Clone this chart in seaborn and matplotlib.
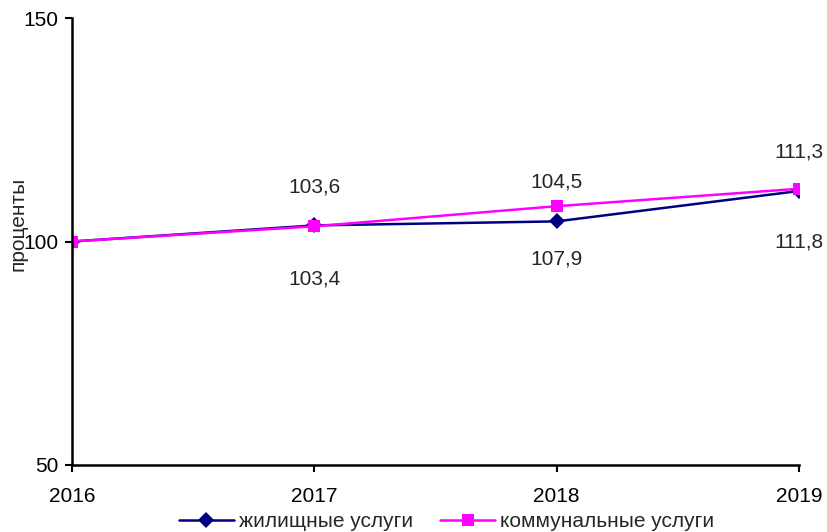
import matplotlib
matplotlib.use('Agg')
import matplotlib.pyplot as plt
import seaborn as sns
import pandas as pd

years = [2016, 2017, 2018, 2019]
housing = [100, 103.6, 104.5, 111.3]
utilities = [100, 103.4, 107.9, 111.8]
series_names = ['жилищные услуги', 'коммунальные услуги']
y_ticks = [50, 100, 150]

df = pd.DataFrame({
    'year': years * 2,
    'value': housing + utilities,
    'series': [series_names[0]] * 4 + [series_names[1]] * 4,
})

sns.set_style('white')
plt.rcParams['font.family'] = ['Liberation Sans', 'DejaVu Sans']
fs = 15

fig = plt.figure(figsize=(8.27, 5.32), dpi=100)
ax = fig.add_axes([72 / 827, 1 - 465 / 532, (799 - 72) / 827, (465 - 18) / 532])

colors = {series_names[0]: '#000080', series_names[1]: '#ff00ff'}
markers = {series_names[0]: 'D', series_names[1]: 's'}
sns.lineplot(data=df, x='year', y='value', hue='series', style='series',
             palette=colors, markers=markers, dashes=False, linewidth=1.8,
             markersize=8, markeredgewidth=0, ax=ax, legend=False)

ax.set_xlim(years[0], years[-1])
ax.set_ylim(y_ticks[0], y_ticks[-1])
ax.set_xticks(years)
ax.set_yticks(y_ticks)
ax.tick_params(axis='both', labelsize=fs, length=5, width=1.5, direction='out',
               colors='black', left=True, bottom=True)
ax.tick_params(axis='x', pad=11)
ax.tick_params(axis='y', pad=5)
sns.despine(ax=ax)
for s in ['left', 'bottom']:
    ax.spines[s].set_linewidth(1.8)
    ax.spines[s].set_color('black')

ax.set_xlabel('')
ax.set_ylabel('проценты', fontsize=fs)
ax.yaxis.set_label_coords(-0.061, 0.54)

# data labels: housing above, utilities below
for x, y in zip(years[1:], housing[1:]):
    ax.annotate(f'{y:.1f}'.replace('.', ','), (x, y), xytext=(0, 28),
                textcoords='offset points', ha='center', va='center', fontsize=fs)
for x, y in zip(years[1:], utilities[1:]):
    ax.annotate(f'{y:.1f}'.replace('.', ','), (x, y), xytext=(0, -38),
                textcoords='offset points', ha='center', va='center', fontsize=fs)

handles = [plt.Line2D([], [], color=colors[n], marker=markers[n], lw=1.8,
                      markersize=8, markeredgewidth=0) for n in series_names]
fig.legend(handles, series_names, loc='center', bbox_to_anchor=(0.540, 0.019),
           ncol=2, frameon=False, fontsize=fs, handlelength=2.65,
           handletextpad=0.24, columnspacing=1.3, borderpad=0)

fig.savefig('out.png', dpi=100)
